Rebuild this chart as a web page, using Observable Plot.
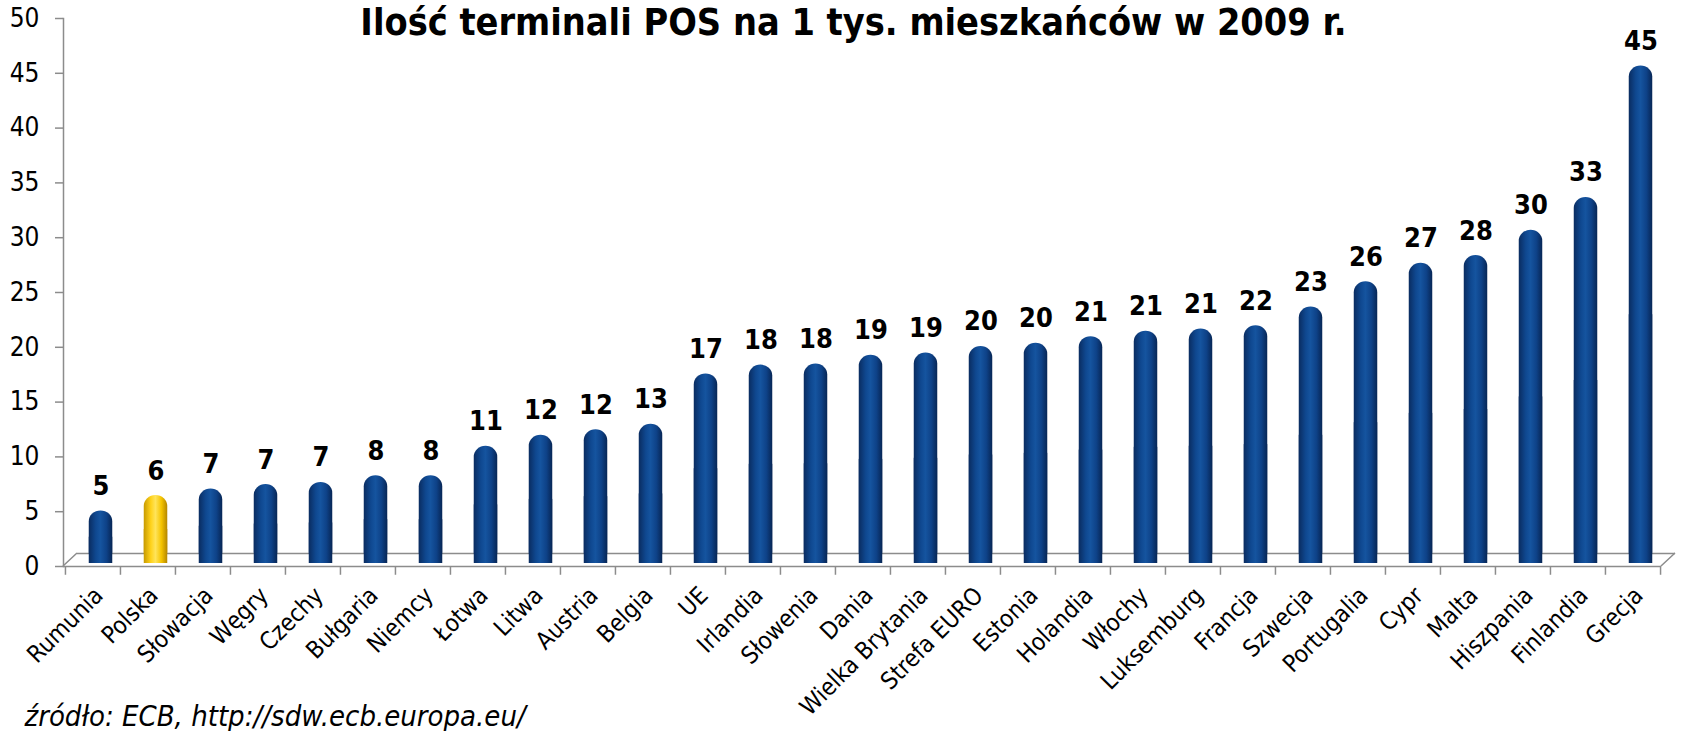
<!DOCTYPE html>
<html>
<head>
<meta charset="utf-8">
<script src="https://cdn.jsdelivr.net/npm/d3@7"></script>
<script src="https://cdn.jsdelivr.net/npm/@observablehq/plot@0.6"></script>
<style>
  html, body { margin: 0; padding: 0; background: #ffffff; }
  #chart svg { display: block; }
</style>
</head>
<body>
<div id="chart"></div>
<script>
// ---- data ----
const countries = ["Rumunia", "Polska", "Słowacja", "Węgry", "Czechy", "Bułgaria", "Niemcy", "Łotwa", "Litwa", "Austria", "Belgia", "UE", "Irlandia", "Słowenia", "Dania", "Wielka Brytania", "Strefa EURO", "Estonia", "Holandia", "Włochy", "Luksemburg", "Francja", "Szwecja", "Portugalia", "Cypr", "Malta", "Hiszpania", "Finlandia", "Grecja"];
const values = [4.8, 6.2, 6.8, 7.2, 7.4, 8.0, 8.0, 10.7, 11.7, 12.2, 12.7, 17.3, 18.1, 18.2, 19.0, 19.2, 19.8, 20.1, 20.7, 21.2, 21.4, 21.7, 23.4, 25.7, 27.4, 28.1, 30.4, 33.4, 45.4];
const highlighted = ["Polska"];
const yTicks = [0, 5, 10, 15, 20, 25, 30, 35, 40, 45, 50];
const title = "Ilość terminali POS na 1 tys. mieszkańców w 2009 r.";
const source = "źródło: ECB, http://sdw.ecb.europa.eu/";

const data = countries.map((c, i) => ({country: c, value: values[i], hl: highlighted.includes(c)}));

const W = 1682, H = 731;
const mL = 63, mR = 21, mT = 18, mB = 165;
const step = (W - mL - mR) / countries.length;
const FONT = "'DejaVu Sans Condensed', 'DejaVu Sans', sans-serif";
const AXIS = "#8c8c8c";
const depthX = 14, depthY = -13;
const barDx = 8, barDy = -3, inset = (step - 23.6) / 2;

const fillOf = d => d.hl ? "url(#cylYellow)" : "url(#cylBlue)";

// gradient definitions (function mark)
const defs = () => {
  const d = d3.create("svg:defs");
  const mk = (id, stops) => {
    const g = d.append("linearGradient").attr("id", id).attr("x1", 0).attr("x2", 1).attr("y1", 0).attr("y2", 0);
    stops.forEach(([o, c]) => g.append("stop").attr("offset", o).attr("stop-color", c));
  };
  mk("cylBlue", [["0%", "#0a2c60"], ["30%", "#0f4890"], ["50%", "#15549f"], ["75%", "#0e4288"], ["100%", "#072655"]]);
  mk("cylYellow", [["0%", "#c79a00"], ["30%", "#ffd21a"], ["50%", "#ffe45a"], ["75%", "#f5c400"], ["100%", "#b48600"]]);
  return d.node();
};

// 3D floor diagonals
const floorEdges = (index, {y}, values, dims) => {
  const y0 = y(0), L = dims.marginLeft, R = dims.width - dims.marginRight;
  return d3.create("svg:path")
    .attr("d", `M${L},${y0}l${depthX},${depthY}M${R},${y0}l${depthX},${depthY}`)
    .attr("stroke", AXIS).attr("stroke-width", 1.5).attr("fill", "none").node();
};

const chart = Plot.plot({
  width: W, height: H,
  marginLeft: mL, marginRight: mR, marginTop: mT, marginBottom: mB,
  style: {fontFamily: FONT, color: "#000", background: "#fff"},
  x: {domain: countries, type: "band", padding: 0, label: null},
  y: {domain: [0, 50], label: null},
  color: {type: "identity"},
  marks: [
    defs,
    // floor (back line, front line, diagonals)
    Plot.ruleY([0], {stroke: AXIS, strokeWidth: 1.5, dx: depthX, dy: depthY}),
    Plot.ruleY([0], {stroke: AXIS, strokeWidth: 1.5}),
    floorEdges,
    Plot.frame({anchor: "left", stroke: AXIS, strokeWidth: 1.5}),
    // category boundary ticks
    Plot.ruleX(countries, {x: d => d, y1: 0, y2: -0.8, dx: -step / 2, stroke: AXIS, strokeWidth: 1.5}),
    Plot.ruleX(countries.slice(-1), {x: d => d, y1: 0, y2: -0.8, dx: step / 2, stroke: AXIS, strokeWidth: 1.5}),
    Plot.axisY({ticks: yTicks, tickSize: 8, tickPadding: 16, fontSize: 26, stroke: AXIS, strokeWidth: 1.5, label: null}),
    Plot.axisX({tickSize: 0, tickPadding: 25, tickRotate: -45, fontSize: 24, dx: 6, label: null}),
    // cylinders
    Plot.barY(data, {x: "country", y: "value", fill: fillOf, rx: 12, ry: 11, insetLeft: inset, insetRight: inset, dx: barDx, dy: barDy}),
    Plot.barY(data, {x: "country", y: d => d.value / 2, fill: fillOf, insetLeft: inset, insetRight: inset, dx: barDx, dy: barDy}),
    // value labels
    Plot.text(data, {x: "country", y: "value", text: d => String(Math.round(d.value)), dx: barDx, dy: -19, lineAnchor: "bottom", fontSize: 27, fontWeight: "bold", fill: "#000"}),
    // title & source
    Plot.text([title], {frameAnchor: "top", lineAnchor: "bottom", dx: -9, dy: 16, fontSize: 37.5, fontWeight: "bold", fill: "#000"}),
    Plot.text([source], {frameAnchor: "bottom-left", lineAnchor: "bottom", textAnchor: "start", dx: -39, dy: 159, fontSize: 29, fontStyle: "italic", fill: "#000"})
  ]
});

document.getElementById("chart").appendChild(chart);
</script>
</body>
</html>
